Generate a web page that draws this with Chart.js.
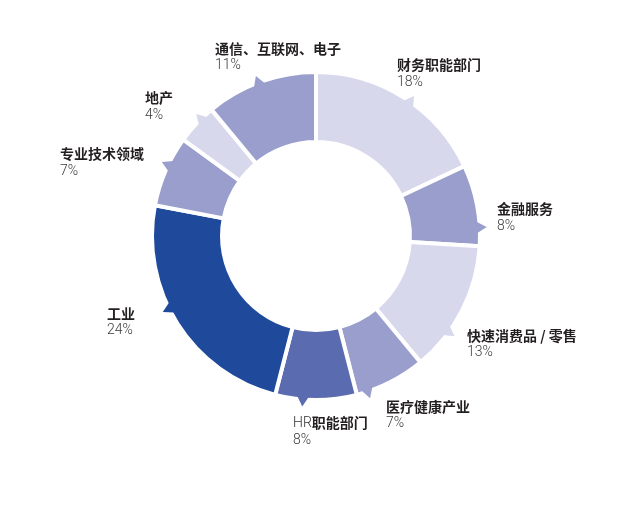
<!DOCTYPE html>
<html>
<head>
<meta charset="utf-8">
<script src="https://cdn.jsdelivr.net/npm/chart.js@4.4.1/dist/chart.umd.min.js"></script>
<style>
html,body{margin:0;padding:0;background:#fff;}
#wrap{width:640px;height:509px;position:relative;}
</style>
</head>
<body>
<div id="wrap"><canvas id="c" width="640" height="509"></canvas></div>
<script>
// ---- data ----
const categories = ['财务职能部门','金融服务','快速消费品 / 零售','医疗健康产业','HR职能部门','工业','专业技术领域','地产','通信、互联网、电子'];
const shares = [18, 8, 13, 7, 8, 24, 7, 4, 11];
const percentLabels = ['18%','8%','13%','7%','8%','24%','7%','4%','11%'];

// ---- styling / layout (not data) ----
const sliceColors = ['#d7d8ec','#9a9ecd','#d7d8ec','#9a9ecd','#5b6baf','#1f4a9c','#9a9ecd','#d7d8ec','#9a9ecd'];
const pointerFrac = [0.54, 0.77, 0.69, 0.84, 0.66, 0.57, 0.59, 0.66, 0.48];
const labelOffsetX = [81, 181, 151, 70, -23, -209, -256, -171, -101];
const labelOffsetY = [-171, -27, 99.5, 170.5, 187, 77.5, -82, -138, -187.5];

const pointerPlugin = {
  id: 'pointers',
  afterDatasetsDraw(chart) {
    const ctx = chart.ctx;
    const meta = chart.getDatasetMeta(0);
    meta.data.forEach((arc, i) => {
      const p = arc.getProps(['x','y','startAngle','endAngle','outerRadius'], true);
      const a = p.startAngle + (p.endAngle - p.startAngle) * pointerFrac[i];
      const r = p.outerRadius - 3;
      const half = 0.036;
      const tipR = p.outerRadius + 7;
      ctx.save();
      ctx.fillStyle = sliceColors[i];
      ctx.beginPath();
      ctx.moveTo(p.x + Math.cos(a - half) * r, p.y + Math.sin(a - half) * r);
      ctx.lineTo(p.x + Math.cos(a) * tipR, p.y + Math.sin(a) * tipR);
      ctx.lineTo(p.x + Math.cos(a + half) * r, p.y + Math.sin(a + half) * r);
      ctx.closePath();
      ctx.fill();
      ctx.restore();
    });
  },
  afterDraw(chart) {
    const ctx = chart.ctx;
    const arc0 = chart.getDatasetMeta(0).data[0];
    const cx = arc0.x, cy = arc0.y;
    ctx.save();
    ctx.textBaseline = 'middle';
    ctx.textAlign = 'left';
    categories.forEach((name, i) => {
      const x = cx + labelOffsetX[i];
      const y = cy + labelOffsetY[i];
      let tx = x;
      if (name.startsWith('HR')) {
        ctx.font = '300 14px Roboto, "Liberation Sans", sans-serif';
        ctx.fillStyle = '#333';
        ctx.fillText('HR', tx, y);
        tx += ctx.measureText('HR').width;
        name = name.slice(2);
      }
      ctx.font = 'bold 14px "Noto Sans CJK SC", sans-serif';
      ctx.fillStyle = '#231f20';
      ctx.fillText(name, tx, y);
      ctx.font = '300 14px Roboto, "Liberation Sans", sans-serif';
      ctx.fillStyle = '#3a3a3a';
      ctx.fillText(percentLabels[i], x, y + 17);
    });
    ctx.restore();
  }
};

new Chart(document.getElementById('c'), {
  type: 'doughnut',
  data: {
    labels: categories,
    datasets: [{
      data: shares,
      backgroundColor: sliceColors,
      borderColor: '#ffffff',
      borderWidth: 4,
      hoverOffset: 0
    }]
  },
  options: {
    responsive: false,
    animation: false,
    cutout: '57.3%',
    layout: { padding: { top: 70, bottom: 107, left: 0, right: 8 } },
    plugins: { legend: { display: false }, tooltip: { enabled: false } }
  },
  plugins: [pointerPlugin]
});
</script>
</body>
</html>
